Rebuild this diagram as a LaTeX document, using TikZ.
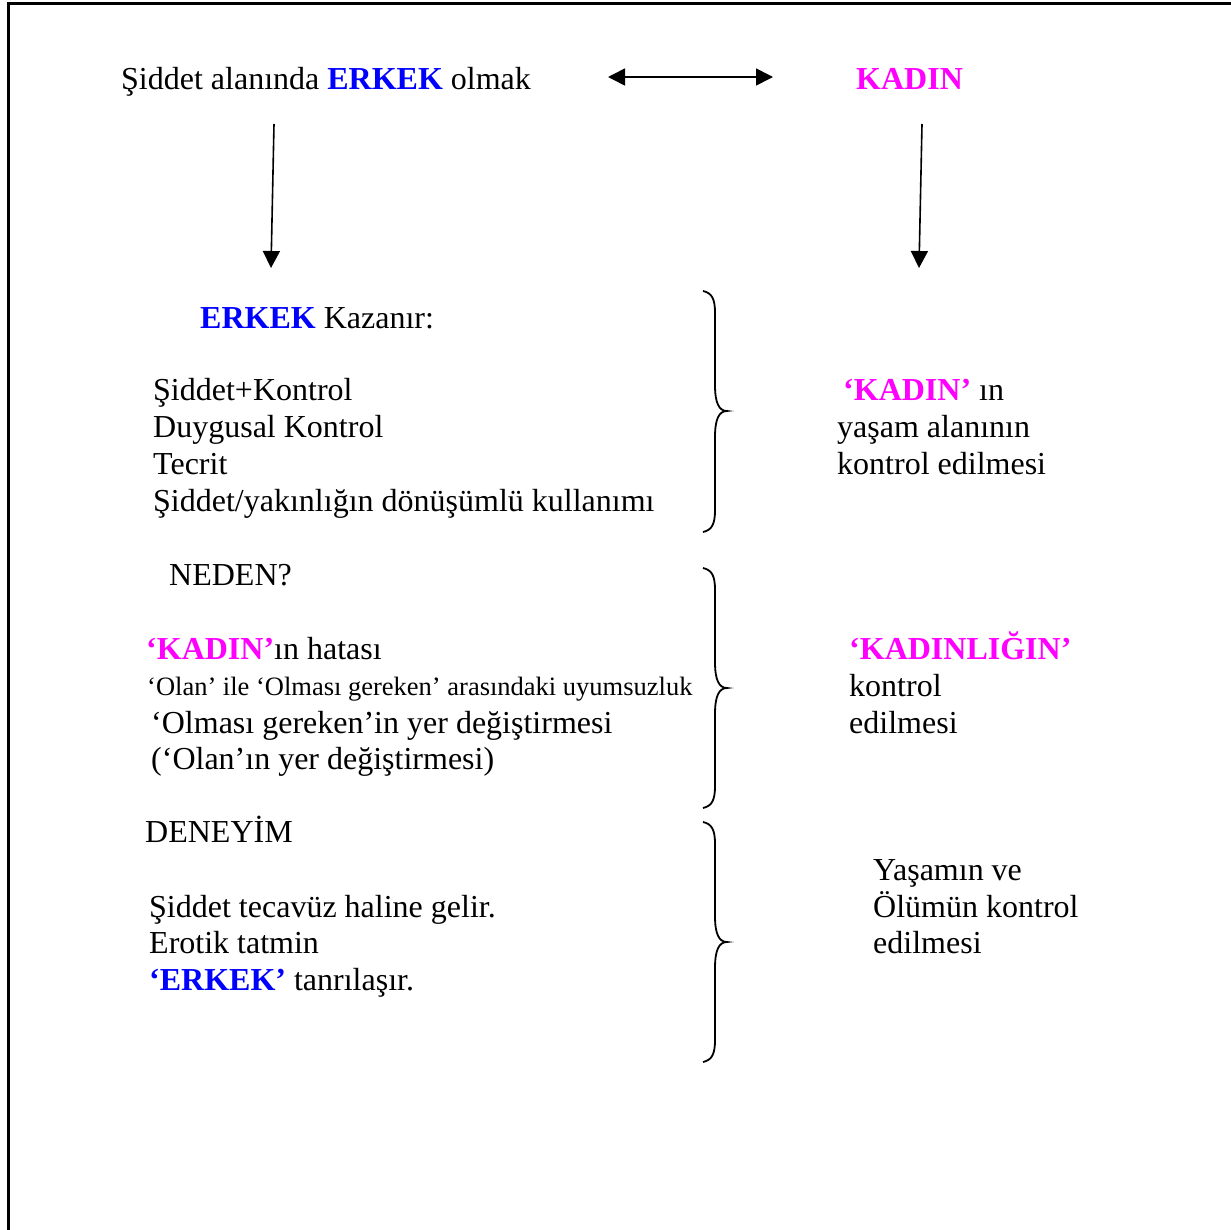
\documentclass[tikz,border=0pt]{standalone}
\usepackage{fontspec}
\setmainfont{Liberation Serif}
\usetikzlibrary{arrows.meta}
\definecolor{erkblue}{RGB}{0,0,255}
\definecolor{kadmag}{RGB}{255,0,255}
\tikzset{
  txt/.style={anchor=base west,inner sep=0pt,font=\fontsize{32}{37}\selectfont},
  smalltxt/.style={anchor=base west,inner sep=0pt,font=\fontsize{26.5}{30}\selectfont},
  arr/.style={line width=1.6pt,-{Triangle[length=17pt,width=17pt]}},
  darr/.style={line width=1.6pt,{Triangle[length=17pt,width=17pt]}-{Triangle[length=17pt,width=17pt]}},
  brace/.style={line width=1.8pt},
  frame/.style={line width=3pt}
}
\newcommand{\erk}[1]{\textcolor{erkblue}{\textbf{#1}}}
\newcommand{\kad}[1]{\textcolor{kadmag}{\textbf{#1}}}
\begin{document}
\begin{tikzpicture}[x=1pt,y=-1pt]
\useasboundingbox (0,0) rectangle (1231,1229);
\begin{scope}
\clip (0,0) rectangle (1231,1229);
\draw[frame] (8,3) rectangle (1260,1260);
\end{scope}
% top row
\node[txt] (title) at (121,89) {Şiddet alanında \erk{ERKEK} olmak};
\node[txt] (kadin) at (856,89) {\kad{KADIN}};
\coordinate (dl) at (608,77);
\coordinate (dr) at (773,77);
\draw[darr] (dl) -- (dr);
% down arrows
\coordinate (a1s) at (274,124);
\coordinate (a1e) at (271,268);
\coordinate (a2s) at (922,124);
\coordinate (a2e) at (919,268);
\draw[arr] (a1s) -- (a1e);
\draw[arr] (a2s) -- (a2e);
% block 1
\node[txt] (kaz) at (200,328) {\erk{ERKEK} Kazanır:};
\node[txt] (l11) at (153,400) {Şiddet+Kontrol};
\node[txt] (l12) at (153,437) {Duygusal Kontrol};
\node[txt] (l13) at (153,474) {Tecrit};
\node[txt] (l14) at (153,511) {Şiddet/yakınlığın dönüşümlü kullanımı};
\node[txt] (r11) at (843,400) {\kad{‘KADIN’} ın};
\node[txt] (r12) at (837,437) {yaşam alanının};
\node[txt] (r13) at (837,474) {kontrol edilmesi};
% block 2
\node[txt] (ned) at (169,585) {NEDEN?};
\node[txt] (l21) at (146,659) {\kad{‘KADIN’}ın hatası};
\node[smalltxt] (l22) at (147,695) {‘Olan’ ile ‘Olması gereken’ arasındaki uyumsuzluk};
\node[txt] (l23) at (151,733) {‘Olması gereken’in yer değiştirmesi};
\node[txt] (l24) at (151,769) {(‘Olan’ın yer değiştirmesi)};
\node[txt] (r21) at (849,659) {\kad{‘KADINLIĞIN’}};
\node[txt] (r22) at (849,696) {kontrol};
\node[txt] (r23) at (849,733) {edilmesi};
% block 3
\node[txt] (den) at (145,842) {DENEYİM};
\node[txt] (l31) at (149,917) {Şiddet tecavüz haline gelir.};
\node[txt] (l32) at (149,953) {Erotik tatmin};
\node[txt] (l33) at (149,990) {\erk{‘ERKEK’} tanrılaşır.};
\node[txt] (r31) at (873,880) {Yaşamın ve};
\node[txt] (r32) at (873,917) {Ölümün kontrol};
\node[txt] (r33) at (873,953) {edilmesi};
% braces
\foreach \t/\m/\b in {291/411/532, 568/688/808, 822/942/1062}{
  \draw[brace] (703,\t) .. controls (712,\t+2) and (715,\t+8) .. (715,\t+22)
    -- (715,\m-26) .. controls (715,\m-8) and (719,\m) .. (727,\m)
    .. controls (719,\m) and (715,\m+8) .. (715,\m+26)
    -- (715,\b-22) .. controls (715,\b-8) and (712,\b-2) .. (703,\b);
}
\end{tikzpicture}
\end{document}
